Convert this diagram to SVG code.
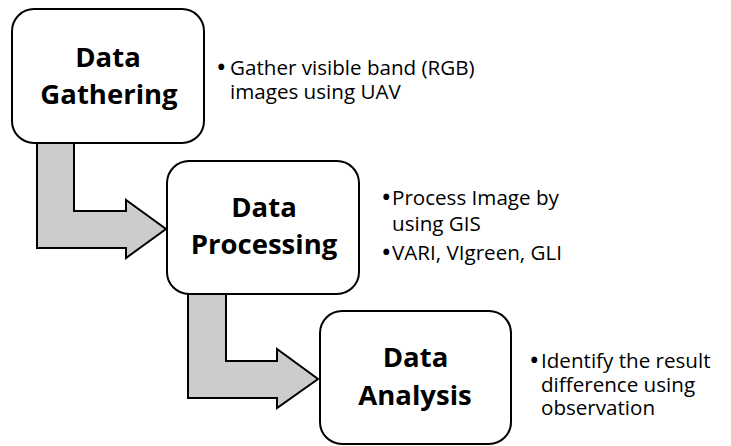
<svg xmlns="http://www.w3.org/2000/svg" width="731" height="446" viewBox="0 0 731 446">
  <style>
    .box { fill: #ffffff; stroke: #000000; stroke-width: 2; }
    .flow { fill: #cccccc; stroke: #000000; stroke-width: 2; stroke-linejoin: miter; }
    .title { font-family: "Open Sans", "Liberation Sans", sans-serif; font-weight: 700; font-size: 27.5px; fill: #000000; text-anchor: middle; }
    .note { font-family: "Open Sans", "Liberation Sans", sans-serif; font-size: 20.6px; fill: #000000; }
    .dot { font-family: "Open Sans", "Liberation Sans", sans-serif; font-size: 28px; fill: #000000; }
  </style>
  <rect width="731" height="446" fill="#ffffff"/>

  <!-- bent block arrows between steps -->
  <g id="connectors">
    <path class="flow" d="M37,140 V248 H126 V258 L166,229 L126,200 V211 H74 V140 Z"/>
    <path class="flow" d="M188,291 V398 H277 V408 L318,379 L277,349 V361 H226 V291 Z"/>
  </g>

  <g id="gathering">
    <rect class="box" x="12" y="9" width="192" height="134" rx="22" ry="22"/>
    <text class="title" x="108" y="66.5">Data</text>
    <text class="title" x="109" y="104">Gathering</text>
  </g>

  <g id="processing">
    <rect class="box" x="167" y="161" width="192" height="133" rx="22" ry="22"/>
    <text class="title" x="264" y="217">Data</text>
    <text class="title" x="264" y="254">Processing</text>
  </g>

  <g id="analysis">
    <rect class="box" x="320" y="311" width="191" height="133" rx="22" ry="22"/>
    <text class="title" x="415.5" y="367">Data</text>
    <text class="title" x="415" y="405">Analysis</text>
  </g>

  <g id="gathering-notes">
    <text class="dot" x="216" y="77">•</text>
    <text class="note" x="230" y="75">Gather visible band (RGB)</text>
    <text class="note" x="230" y="98.5">images using UAV</text>
  </g>

  <g id="processing-notes">
    <text class="dot" x="381" y="206.5">•</text>
    <text class="note" x="392" y="204.5">Process Image by</text>
    <text class="note" x="392" y="231">using GIS</text>
    <text class="dot" x="381" y="261.5">•</text>
    <text class="note" x="392" y="259.5">VARI, VIgreen, GLI</text>
  </g>

  <g id="analysis-notes">
    <text class="dot" x="529" y="370">•</text>
    <text class="note" x="541" y="368">Identify the result</text>
    <text class="note" x="541" y="392">difference using</text>
    <text class="note" x="541" y="415">observation</text>
  </g>
</svg>
